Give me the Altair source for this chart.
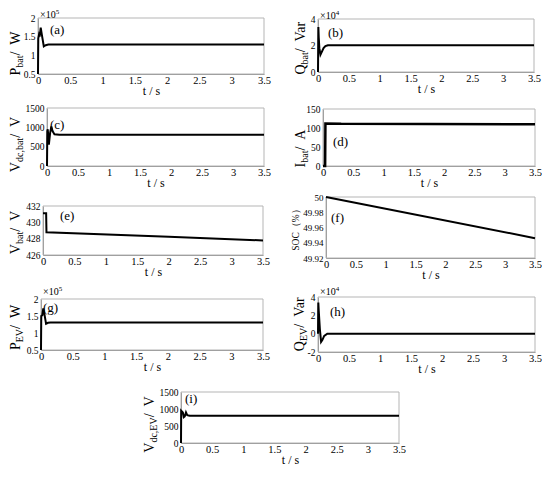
import altair as alt
import pandas as pd

FONT = "Liberation Serif"
X_TICKS = [0, 0.5, 1, 1.5, 2, 2.5, 3, 3.5]

# ---------------- data ----------------
a_t = [0, 0.004, 0.015, 0.025, 0.042, 0.06, 0.09, 0.12, 0.16, 3.5]
a_v = [0.5, 1.45, 1.55, 1.5, 1.74, 1.55, 1.24, 1.27, 1.29, 1.29]

b_t = [0, 0.006, 0.012, 0.022, 0.04, 0.06, 0.09, 0.12, 0.16, 3.5]
b_v = [0, 3.4, 2.6, 1.8, 1.3, 1.5, 1.8, 1.95, 2.02, 2.02]

c_t = [0, 0.005, 0.012, 0.03, 0.05, 0.07, 0.09, 0.12, 0.2, 3.5]
c_v = [0, 900, 950, 550, 850, 1020, 900, 820, 810, 810]

d_t = [0, 0.035, 0.04, 0.3, 3.5]
d_v = [0, 0, 112, 111, 110]

e_t = [0, 0.05, 0.055, 2.0, 3.5]
e_v = [431.1, 431.1, 428.78, 428.22, 427.78]

f_t = [0, 3.5]
f_v = [50.0, 49.946]

g_t = [0, 0.004, 0.02, 0.036, 0.05, 0.08, 0.11, 0.15, 3.5]
g_v = [0.5, 1.5, 1.52, 1.72, 1.6, 1.27, 1.3, 1.31, 1.31]

h_t = [0, 0.005, 0.012, 0.03, 0.05, 0.07, 0.1, 0.15, 3.5]
h_v = [0, 3.4, 2.5, 0.5, -0.9, -0.7, -0.25, 0, 0]

i_t = [0, 0.003, 0.03, 0.045, 0.06, 0.08, 0.1, 0.14, 3.5]
i_v = [0, 950, 900, 760, 780, 900, 820, 800, 800]

DUMMY = pd.DataFrame({"k": [0]})
NB = "\u00a0"

CW = {'P': .556, 'Q': .722, 'V': .722, 'I': .333, 'W': .944, 'A': .722, 'a': .444,
      'r': .333, 'b': .5, 't': .278, 'd': .5, 'c': .444, ',': .25, 'E': .611,
      ' ': .25, NB: .25, '/': .278, 'S': .556, 'O': .722, 'C': .667, '%': .833,
      '×': .564, '1': .5, '0': .5, '（': 1.0, '）': 1.0}

BIG, SUB = 14, 10
ORG = 8            # page margin -> plot origin
W, H = 534, 461    # whole drawing area
SEP = NB + NB + "/" + NB + NB


def tw(s, size):
    return sum(CW.get(ch, 0.6) for ch in s) * size


def txt(s, x, y, size, dx=0.0, dy=0.0, angle=0, align="left", baseline="alphabetic"):
    kw = dict(text=s, fontSize=size, font=FONT, align=align, baseline=baseline,
              dx=dx, dy=dy, color="black")
    if angle:
        kw["angle"] = angle
    return alt.Chart(DUMMY).mark_text(**kw).encode(x=alt.value(x - ORG), y=alt.value(y - ORG))


def panel(t, v, ydom, yticks, x0, x1, y0, y1, title_parts, tcx, tcy, label, lx, ly,
          expo=None, expo_dy=-2, ylab_size=9.5, stroke=2):
    df = pd.DataFrame({"t": t, "v": v})
    xs = alt.Scale(domain=[0, 3.5], range=[x0 - ORG, x1 - ORG], nice=False, zero=False)
    ys = alt.Scale(domain=ydom, range=[y1 - ORG, y0 - ORG], nice=False, zero=False)
    xax = alt.Axis(values=X_TICKS, title="t / s", labelExpr="toString(datum.value)",
                   orient="bottom", offset=(y1 - ORG) - H,
                   labelFlush=False, labelFontSize=10.5, titleFontSize=12,
                   labelPadding=1, titlePadding=0)
    yax = alt.Axis(values=yticks, title=None, labelExpr="toString(datum.value)",
                   orient="left", offset=-(x0 - ORG),
                   labelFontSize=ylab_size, labelPadding=3)
    frame = alt.Chart(DUMMY).mark_rect(fillOpacity=0, stroke="#b5b5b5", strokeWidth=1).encode(
        x=alt.datum(0, scale=xs, axis=xax), x2=alt.datum(3.5),
        y=alt.datum(ydom[0], scale=ys, axis=yax), y2=alt.datum(ydom[1]),
    )
    line = alt.Chart(df).mark_line(color="black", strokeWidth=stroke).encode(
        x=alt.X("t:Q", scale=xs, axis=xax),
        y=alt.Y("v:Q", scale=ys, axis=yax),
    )
    layers = [frame, line]
    total = sum(tw(s, size) for s, _, size in title_parts)
    off = -total / 2
    for s, dy, size in title_parts:
        layers.append(txt(s, tcx, tcy, size, dx=off, dy=dy, angle=270,
                          align="left", baseline="middle"))
        off += tw(s, size)
    layers.append(txt(label, x0 + lx, y0 + ly, 13, baseline="middle"))
    if expo:
        layers.append(txt("×10", x0 + 2, y0 + expo_dy, 10))
        layers.append(txt(expo, x0 + 2 + tw("×10", 10), y0 + expo_dy - 4, 7))
    return alt.layer(*layers)


def ytitle(main, sub, unit):
    return [(main, 0, BIG), (sub, 4, SUB), (SEP + unit, 0, BIG)]


pa = panel(a_t, a_v, [0.5, 2], [0.5, 1, 1.5, 2], 38, 264, 18, 74,
           ytitle("P", "bat", "W"), 16, 50, "(a)", 12, 12, expo="5", expo_dy=0)
pb = panel(b_t, b_v, [0, 4], [0, 2, 4], 318, 534, 19, 72,
           ytitle("Q", "bat", "Var"), 301, 44, "(b)", 10, 14, expo="4", expo_dy=0)
pc = panel(c_t, c_v, [0, 1500], [0, 500, 1000, 1500], 47, 264, 108, 166,
           ytitle("V", "dc,bat", "V"), 16, 141, "(c)", 3, 17)
pd_ = panel(d_t, d_v, [0, 150], [0, 50, 100, 150], 323, 535, 109, 166,
            ytitle("I", "bat", "A"), 301, 145, "(d)", 10, 33, stroke=2.5)
pe = panel(e_t, e_v, [426, 432], [426, 428, 430, 432], 43, 263, 206, 255,
           ytitle("V", "bat", "V"), 16, 229, "(e)", 17, 10)
pf = panel(f_t, f_v, [49.92, 50], [49.92, 49.94, 49.96, 49.98, 50], 326, 535, 197, 258,
           [("SOC（%）", 0, 9.5)], 296, 228, "(f)", 5, 21, ylab_size=9)
pg = panel(g_t, g_v, [0.5, 2], [0.5, 1, 1.5, 2], 41, 263, 299, 350,
           ytitle("P", "EV", "W"), 16, 324, "(g)", 2, 9, expo="5", expo_dy=-4)
ph = panel(h_t, h_v, [-2, 4], [-2, 0, 2, 4], 318, 535, 297, 352,
           ytitle("Q", "EV", "Var"), 300, 320, "(h)", 12, 15, expo="4")
pi = panel(i_t, i_v, [0, 1500], [0, 500, 1000, 1500], 181, 399, 392, 443,
           ytitle("V", "dc,EV", "V"), 150, 421, "(i)", 4, 7)

chart = alt.layer(pa, pb, pc, pd_, pe, pf, pg, ph, pi).resolve_scale(
    x="independent", y="independent"
).properties(
    width=W, height=H, padding=0, autosize=alt.AutoSizeParams(type="none")
).configure(font=FONT).configure_view(stroke="transparent").configure_axis(
    grid=False, ticks=False, domainColor="#8a8a8a", labelColor="black", titleColor="black",
    labelFont=FONT, titleFont=FONT, titleFontWeight="normal"
)

chart.save("out.html", embed_options={"renderer": "svg", "actions": False})
